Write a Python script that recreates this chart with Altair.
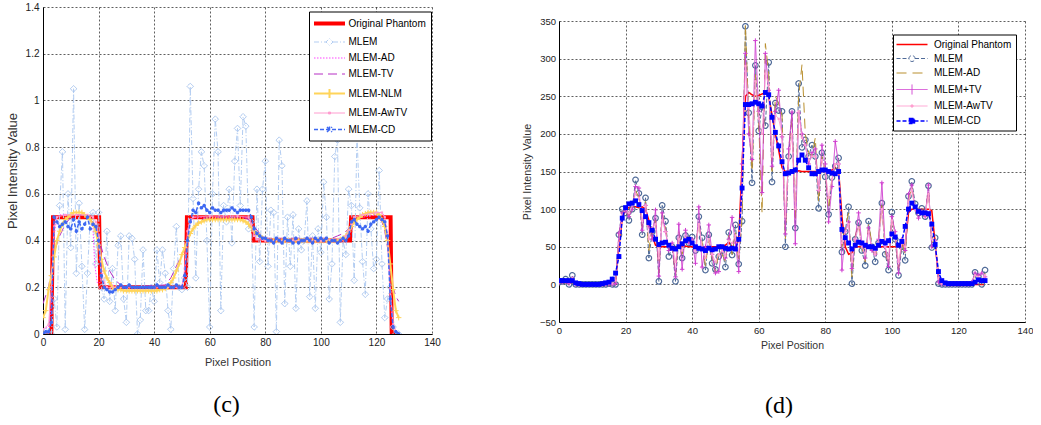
import altair as alt
import pandas as pd

FONT = "Liberation Sans"
PIX = list(range(129))

# ------------------------------------------------------------------ panel (c)
C_NAMES = ["Original Phantom", "MLEM", "MLEM-AD", "MLEM-TV", "MLEM-NLM", "MLEM-AwTV", "MLEM-CD"]

C_PHANTOM_X = [0, 3, 3.6, 20.2, 20.6, 51.4, 51.8, 75.4, 75.8, 110.5, 110.9, 125.1, 125.5, 128]
C_PHANTOM_Y = [0, 0, 0.5, 0.5, 0.2, 0.2, 0.5, 0.5, 0.4, 0.4, 0.5, 0.5, 0, 0]

C_MLEM = [
    0.0, 0.01, 0.0, 0.0, 0.15, 0.03, 0.55, 0.78, 0.02, 0.6,
    0.37, 1.05, 0.26, 0.56, 0.29, 0.02, 0.26, 0.5, 0.52, 0.3,
    0.52, 0.2, 0.15, 0.44, 0.14, 0.28, 0.1, 0.38, 0.42, 0.15,
    0.05, 0.42, 0.41, 0.32, 0.0, 0.06, 0.36, 0.1, 0.1, 0.2,
    0.14, 0.36, 0.22, 0.36, 0.26, 0.1, 0.02, 0.28, 0.46, 0.2,
    0.19, 0.24, 0.2, 1.06, 0.58, 0.24, 0.62, 0.78, 0.72, 0.4,
    0.03, 0.6, 0.92, 0.78, 0.1, 0.55, 0.48, 0.62, 0.39, 0.74,
    0.88, 0.55, 0.93, 0.89, 0.45, 0.48, 0.03, 0.62, 0.31, 0.62,
    0.74, 0.29, 0.53, 0.52, 0.01, 0.83, 0.72, 0.13, 0.5, 0.29,
    0.51, 0.11, 0.45, 0.36, 0.4, 0.57, 0.16, 0.42, 0.11, 0.45,
    0.35, 0.65, 0.5, 0.15, 0.3, 0.76, 0.83, 0.05, 0.4, 0.34,
    0.62, 0.55, 0.23, 0.85, 0.54, 0.31, 0.17, 0.6, 0.45, 0.28,
    0.32, 0.7, 0.3, 0.07, 0.15, 0.2, 0.03, 0.0, 0.0,
]

C_AD_X = [0, 2, 3, 4, 5, 6, 10, 15, 17, 18, 18.6, 19.5, 20.5, 21.5, 23, 25, 27, 30, 45, 49,
          50, 51, 52, 53, 54, 60, 70, 74, 75, 76, 77, 80, 100, 108, 109, 110, 111, 112, 115, 120,
          122, 123, 124, 125, 126, 128]
C_AD_Y = [0.02, 0.03, 0.12, 0.42, 0.5, 0.51, 0.51, 0.51, 0.5, 0.45, 0.3, 0.22, 0.22, 0.27, 0.24, 0.21, 0.2, 0.2, 0.2, 0.2,
          0.21, 0.26, 0.42, 0.48, 0.5, 0.5, 0.5, 0.5, 0.47, 0.42, 0.41, 0.4, 0.4, 0.4, 0.41, 0.42, 0.45, 0.49, 0.5, 0.51,
          0.52, 0.5, 0.42, 0.15, 0.03, 0.0]

C_TV_X = [0, 2, 4, 6, 8, 10, 12, 14, 16, 18, 19, 20, 22, 24, 26, 28, 30, 44, 46, 48,
          50, 52, 54, 56, 58, 62, 72, 74, 76, 78, 80, 104, 106, 108, 110, 112, 114, 116, 118, 120,
          122, 123, 124, 125, 126, 127, 128]
C_TV_Y = [0.13, 0.2, 0.35, 0.42, 0.47, 0.5, 0.51, 0.51, 0.5, 0.48, 0.46, 0.41, 0.33, 0.27, 0.23, 0.21, 0.2, 0.21, 0.24, 0.29,
          0.34, 0.4, 0.45, 0.48, 0.495, 0.5, 0.5, 0.49, 0.46, 0.43, 0.41, 0.41, 0.42, 0.43, 0.45, 0.48, 0.5, 0.51, 0.52, 0.51,
          0.48, 0.44, 0.37, 0.28, 0.2, 0.16, 0.14]

C_NLM = [
    0.07, 0.1, 0.19, 0.25, 0.33, 0.4, 0.44, 0.47, 0.49, 0.5,
    0.51, 0.52, 0.52, 0.52, 0.52, 0.51, 0.5, 0.49, 0.47, 0.44,
    0.38, 0.32, 0.27, 0.24, 0.22, 0.2, 0.195, 0.19, 0.19, 0.185,
    0.185, 0.185, 0.185, 0.185, 0.185, 0.185, 0.185, 0.185, 0.185, 0.185,
    0.185, 0.185, 0.19, 0.19, 0.195, 0.2, 0.22, 0.24, 0.27, 0.3,
    0.34, 0.37, 0.4, 0.43, 0.45, 0.465, 0.475, 0.48, 0.485, 0.49,
    0.49, 0.49, 0.49, 0.49, 0.49, 0.49, 0.49, 0.49, 0.49, 0.49,
    0.49, 0.49, 0.485, 0.48, 0.47, 0.455, 0.44, 0.43, 0.42, 0.41,
    0.405, 0.4, 0.4, 0.4, 0.4, 0.4, 0.4, 0.4, 0.4, 0.4,
    0.4, 0.4, 0.4, 0.4, 0.4, 0.4, 0.4, 0.4, 0.4, 0.4,
    0.4, 0.4, 0.4, 0.4, 0.4, 0.4, 0.4, 0.405, 0.41, 0.42,
    0.44, 0.46, 0.48, 0.49, 0.5, 0.51, 0.515, 0.52, 0.52, 0.52,
    0.52, 0.51, 0.49, 0.46, 0.4, 0.3, 0.19, 0.1, 0.07,
]

C_AWTV_X = [0, 2, 3, 4, 5, 8, 12, 16, 18, 19, 20, 21, 22, 23, 30, 40, 50, 51, 52, 53,
            54, 60, 70, 74, 75, 76, 77, 80, 90, 100, 108, 109, 110, 111, 112, 115, 120, 122, 123, 124,
            125, 126, 127, 128]
C_AWTV_Y = [0.02, 0.04, 0.2, 0.46, 0.5, 0.51, 0.51, 0.51, 0.5, 0.48, 0.42, 0.27, 0.22, 0.2, 0.2, 0.2, 0.2, 0.28, 0.44, 0.49,
            0.5, 0.505, 0.505, 0.5, 0.47, 0.42, 0.405, 0.4, 0.4, 0.4, 0.41, 0.42, 0.44, 0.47, 0.5, 0.51, 0.52, 0.52, 0.5, 0.42,
            0.18, 0.05, 0.01, 0.0]

C_CD = [
    0.0, 0.01, 0.01, 0.05, 0.5, 0.48, 0.46, 0.47, 0.48, 0.46,
    0.45, 0.49, 0.44, 0.48, 0.45, 0.47, 0.5, 0.45, 0.47, 0.46,
    0.4, 0.25, 0.2, 0.19, 0.18, 0.18, 0.19, 0.2, 0.21, 0.2,
    0.2, 0.21, 0.2, 0.2, 0.2, 0.2, 0.2, 0.2, 0.2, 0.2,
    0.2, 0.21, 0.2, 0.2, 0.2, 0.21, 0.2, 0.2, 0.21, 0.2,
    0.2, 0.25, 0.4, 0.48, 0.53, 0.52, 0.56, 0.54, 0.55, 0.53,
    0.52, 0.54, 0.53, 0.53, 0.52, 0.53, 0.53, 0.53, 0.54, 0.53,
    0.52, 0.53, 0.53, 0.53, 0.53, 0.5, 0.45, 0.43, 0.42, 0.41,
    0.41, 0.4, 0.4, 0.39, 0.41, 0.4, 0.39, 0.41, 0.4, 0.4,
    0.39, 0.41, 0.39, 0.4, 0.4, 0.41, 0.4, 0.39, 0.41, 0.4,
    0.41, 0.4, 0.41, 0.39, 0.4, 0.4, 0.39, 0.4, 0.41, 0.4,
    0.42, 0.48, 0.49, 0.47, 0.46, 0.45, 0.46, 0.44, 0.47, 0.48,
    0.49, 0.5, 0.49, 0.48, 0.42, 0.15, 0.03, 0.01, 0.0,
]

# ------------------------------------------------------------------ panel (d)
D_NAMES = ["Original Phantom", "MLEM", "MLEM-AD", "MLEM+TV", "MLEM-AwTV", "MLEM-CD"]

D_PHANTOM = [
    2, 2, 2, 2, 2, 1, 0, 0, 0, 0,
    0, 0, 0, 0, 0, 0, 0, 5, 50, 88,
    100, 102, 103, 103, 102, 103, 100, 85, 65, 52,
    50, 50, 50, 50, 49, 50, 50, 50, 51, 50,
    50, 50, 50, 49, 50, 50, 50, 50, 50, 50,
    52, 56, 50, 48, 60, 160, 250, 255, 252, 250,
    251, 253, 255, 250, 225, 200, 178, 155, 150, 150,
    150, 150, 151, 150, 150, 150, 150, 150, 150, 150,
    150, 150, 152, 155, 152, 90, 50, 40, 42, 50,
    50, 50, 50, 50, 50, 50, 50, 50, 50, 50,
    50, 50, 50, 51, 52, 95, 100, 100, 100, 100,
    100, 100, 98, 55, 10, 1, 0, 0, 0, 0,
    0, 0, 0, 0, 0, 0, 0, 0, 0,
]
D_MLEM = [
    3, 4, 7, 0, 12, 0, 0, 0, 0, 0,
    0, 0, 0, 0, 0, 1, 0, 0, 66, 100,
    95, 85, 100, 139, 121, 66, 115, 35, 70, 88,
    4, 105, 84, 37, 50, 4, 62, 35, 65, 55,
    63, 45, 90, 62, 19, 66, 28, 20, 37, 45,
    23, 69, 39, 79, 27, 84, 343, 228, 135, 291,
    204, 236, 211, 295, 136, 241, 231, 230, 50, 170,
    230, 75, 267, 182, 192, 170, 185, 170, 101, 175,
    143, 93, 142, 157, 168, 43, 70, 103, 1, 60,
    82, 45, 25, 84, 50, 30, 55, 108, 40, 19,
    96, 60, 12, 50, 32, 117, 137, 107, 95, 101,
    90, 131, 49, 62, 1, 0, 0, 0, 0, 0,
    0, 0, 0, 0, 0, 16, 10, 0, 19,
]
D_AD = [
    2, 3, 5, 1, 8, 0, 0, 0, 0, 0,
    0, 0, 0, 0, 0, 0, 0, 2, 60, 95,
    100, 90, 105, 125, 115, 75, 110, 45, 80, 85,
    15, 95, 75, 45, 55, 10, 70, 40, 60, 65,
    55, 50, 80, 55, 25, 60, 35, 15, 45, 40,
    30, 65, 40, 70, 30, 90, 345, 220, 150, 280,
    215, 95, 320, 280, 150, 250, 240, 225, 60, 180,
    220, 85, 250, 292, 200, 175, 170, 195, 110, 170,
    150, 100, 140, 160, 165, 50, 75, 95, 10, 65,
    80, 50, 30, 80, 55, 35, 60, 105, 45, 25,
    90, 65, 20, 55, 40, 110, 130, 100, 95, 98,
    92, 125, 55, 60, 5, 0, 0, 0, 0, 0,
    0, 0, 0, 0, 2, 12, 8, 2, 15,
]
D_TV = [
    2, 3, 4, 1, 8, 0, 0, 0, 0, 0,
    0, 0, 0, 0, 0, 0, 0, 1, 68, 95,
    98, 90, 100, 130, 128, 72, 105, 77, 60, 99,
    11, 95, 70, 45, 55, 10, 80, 20, 72, 55,
    60, 28, 103, 23, 50, 79, 40, 15, 17, 50,
    35, 60, 89, 55, 17, 160, 307, 200, 166, 324,
    230, 122, 307, 258, 157, 230, 258, 196, 67, 180,
    229, 54, 228, 200, 185, 160, 175, 180, 125, 185,
    160, 83, 130, 190, 160, 19, 70, 83, 21, 60,
    95, 55, 35, 75, 45, 40, 60, 135, 50, 24,
    90, 70, 15, 60, 45, 120, 132, 100, 88, 95,
    90, 132, 50, 58, 3, 0, 0, 0, 0, 0,
    0, 0, 0, 0, 3, 15, 12, 15, 10,
]
D_AWTV = [
    3, 4, 5, 3, 8, 1, 0, 0, 0, 0,
    0, 0, 0, 0, 0, 1, 1, 5, 55, 92,
    100, 95, 105, 120, 115, 85, 105, 60, 75, 80,
    35, 85, 70, 50, 52, 30, 60, 45, 62, 58,
    58, 45, 80, 50, 35, 60, 40, 30, 40, 45,
    38, 58, 55, 65, 40, 120, 290, 235, 170, 270,
    220, 200, 280, 265, 170, 225, 220, 200, 90, 165,
    200, 100, 230, 195, 185, 165, 170, 170, 125, 165,
    150, 115, 140, 160, 160, 55, 70, 80, 30, 60,
    75, 50, 40, 70, 50, 40, 55, 100, 50, 35,
    85, 65, 30, 55, 50, 110, 125, 100, 95, 97,
    92, 120, 60, 58, 8, 1, 0, 0, 0, 0,
    0, 0, 0, 0, 3, 12, 10, 6, 12,
]
D_CD = [
    5, 5, 5, 5, 5, 2, 1, 0, 0, 0,
    0, 0, 0, 1, 2, 3, 7, 15, 37, 88,
    102, 107, 108, 111, 106, 98, 90, 82, 72, 60,
    53, 55, 56, 52, 48, 47, 50, 54, 58, 60,
    55, 50, 48, 47, 45, 48, 46, 47, 50, 50,
    48, 47, 48, 47, 60, 128, 239, 239, 240, 242,
    240, 237, 255, 252, 222, 202, 184, 163, 147, 148,
    150, 152, 165, 172, 165, 155, 147, 147, 150, 152,
    152, 150, 148, 147, 150, 73, 62, 55, 47, 52,
    56, 55, 52, 50, 50, 48, 52, 57, 55, 58,
    67, 63, 52, 57, 77, 100, 108, 103, 97, 95,
    95, 94, 80, 53, 17, 5, 2, 1, 1, 1,
    1, 1, 1, 1, 1, 3, 6, 5, 5,
]

X_TICKS = [0, 20, 40, 60, 80, 100, 120, 140]
C_Y_TICKS = [0, 0.2, 0.4, 0.6, 0.8, 1.0, 1.2, 1.4]
D_Y_TICKS = [-50, 0, 50, 100, 150, 200, 250, 300, 350]

# ------------------------------------------------------------------ styles
PLUS = "M-1,0H1M0,-1V1"
STAR = "M-1,0H1M0,-1V1M-0.7,-0.7L0.7,0.7M-0.7,0.7L0.7,-0.7"

C_COLORS = ["#ff0000", "#b3cdf2", "#ff44ff", "#b62fc4", "#ffd45a", "#ff9ccf", "#3d68f2"]
C_DASH = [[1, 0], [5, 2, 1, 2], [1.5, 1.5], [9, 5], [1, 0], [1, 0], [4, 2]]
C_WIDTH = [4, 1, 1, 1, 2, 1, 1.5]
C_PATHS = [
    "M-3.1,0H3.1",
    "M-3.1,0H-0.7L0,-0.7L0.7,0L0,0.7L-0.7,0M0.7,0H3.1",
    "M-3.1,0H3.1",
    "M-3.1,0H3.1",
    "M-3.1,0H3.1M0,-0.9V0.9",
    "M-3.1,0H3.1M-0.2,-0.2H0.2V0.2H-0.2Z",
    "M-3.1,0H3.1M-0.5,-0.5L0.5,0.5M-0.5,0.5L0.5,-0.5M0,-0.6V0.6",
]
C_FILLS = ["transparent", "transparent", "transparent", "transparent", "transparent", "#ff9ccf", "transparent"]

D_COLORS = ["#ff0000", "#4f6a98", "#b98f2e", "#d03ed0", "#ff9fd0", "#0000ff"]
D_DASH = [[1, 0], [4, 2], [10, 6], [1, 0], [1, 0], [4, 2]]
D_WIDTH = [1.5, 1, 1, 1, 1, 1.5]
D_PATHS = [
    "M-3.1,0H3.1",
    "M-3.1,0H-0.6A0.6,0.6,0,1,1,0.6,0A0.6,0.6,0,1,1,-0.6,0M0.6,0H3.1",
    "M-3.1,0H3.1",
    "M-3.1,0H3.1M0,-1V1",
    "M-3.1,0H3.1M-0.2,-0.2H0.2V0.2H-0.2Z",
    "M-3.1,0H3.1M-0.5,-0.5H0.5V0.5H-0.5ZM-0.25,-0.25H0.25V0.25H-0.25Z",
]
D_FILLS = ["transparent", "transparent", "transparent", "transparent", "#ff9fd0", "#0000ff"]


def frame(x, y):
    return pd.DataFrame({"x": x, "y": y})


def axes(xscale, yscale, xfmt, yfmt, lab_fs, xt_fs, yt_fs, x_tpad, y_tpad, x_lpad, y_lpad, xvals, yvals):
    grid = dict(grid=True, gridColor="black", gridDash=[2, 2], gridWidth=0.7, gridOpacity=0.9,
                ticks=False, domainColor="black", domainWidth=1, labelFont=FONT,
                labelFontSize=lab_fs, labelColor="#222222", labelFlush=False, labelOverlap=False,
                titleFont=FONT, titleFontWeight="normal", titleColor="#333333")
    xe = alt.X("x:Q", scale=xscale,
               axis=alt.Axis(values=xvals, format=xfmt, title="Pixel Position", titleFontSize=xt_fs,
                             titlePadding=x_tpad, labelPadding=x_lpad, **grid))
    ye = alt.Y("y:Q", scale=yscale,
               axis=alt.Axis(values=yvals, format=yfmt, title="Pixel Intensity Value", titleFontSize=yt_fs,
                             titlePadding=y_tpad, labelPadding=y_lpad, **grid))
    return xe, ye


def legend_layer(names, colors, dashes, widths, paths, fills, lx, ly, pad, rowpad, symoff, laboff):
    leg = alt.Legend(title=None, orient="none", legendX=lx, legendY=ly, fillColor="white",
                     strokeColor="black", padding=pad, rowPadding=rowpad, symbolSize=100,
                     symbolOffset=symoff, labelOffset=laboff, labelFont=FONT, labelFontSize=10,
                     labelColor="black", labelLimit=300, symbolOpacity=1)
    src = pd.DataFrame({"series": names})
    return alt.Chart(src).transform_filter("false").mark_point(opacity=1, filled=False).encode(
        shape=alt.Shape("series:N", scale=alt.Scale(domain=names, range=paths), legend=leg),
        stroke=alt.Stroke("series:N", scale=alt.Scale(domain=names, range=colors), legend=leg),
        strokeDash=alt.StrokeDash("series:N", scale=alt.Scale(domain=names, range=dashes), legend=leg),
        strokeWidth=alt.StrokeWidth("series:N", scale=alt.Scale(type="ordinal", domain=names, range=widths),
                                    legend=leg),
        fill=alt.Fill("series:N", scale=alt.Scale(domain=names, range=fills), legend=leg),
    )


def series(x, y, color, dash, width, enc, point=None):
    kw = dict(color=color, strokeDash=dash, strokeWidth=width, clip=True)
    if point is not None:
        kw["point"] = point
    return alt.Chart(frame(x, y)).mark_line(**kw).encode(x=enc[0], y=enc[1])


# ------------------------------------------------------------------ panel (c)
cx = alt.Scale(domain=[0, 140], nice=False, zero=False)
cy = alt.Scale(domain=[0, 1.4], nice=False, zero=False)
c_enc = axes(cx, cy, "d", ".1~f", 10, 11, 13, 9, 6, 3, 4, X_TICKS, C_Y_TICKS)

c_layers = [
    series(C_PHANTOM_X, C_PHANTOM_Y, C_COLORS[0], C_DASH[0], C_WIDTH[0], c_enc),
    series(PIX, C_MLEM, C_COLORS[1], C_DASH[1], C_WIDTH[1], c_enc,
           alt.OverlayMarkDef(shape="diamond", filled=False, size=42, color="#a8c5ef", strokeWidth=1,
                              opacity=1, strokeDash=[1, 0])),
    series(C_AD_X, C_AD_Y, C_COLORS[2], C_DASH[2], C_WIDTH[2], c_enc),
    series(C_TV_X, C_TV_Y, C_COLORS[3], C_DASH[3], C_WIDTH[3], c_enc),
    series(PIX, C_NLM, C_COLORS[4], C_DASH[4], C_WIDTH[4], c_enc,
           alt.OverlayMarkDef(shape=PLUS, filled=False, size=30, color=C_COLORS[4], strokeWidth=1, opacity=1)),
    series(C_AWTV_X, C_AWTV_Y, C_COLORS[5], C_DASH[5], C_WIDTH[5], c_enc,
           alt.OverlayMarkDef(shape="square", filled=True, size=5, color=C_COLORS[5], opacity=1)),
    series(PIX, C_CD, C_COLORS[6], C_DASH[6], C_WIDTH[6], c_enc,
           alt.OverlayMarkDef(shape=STAR, filled=False, size=12, color=C_COLORS[6], strokeWidth=1.2,
                              opacity=1, strokeDash=[1, 0])),
    legend_layer(C_NAMES, C_COLORS, C_DASH, C_WIDTH, C_PATHS, C_FILLS, 266, 4.5, 5, 5, 8.5, 12),
]

panel_c = alt.layer(*c_layers).properties(
    width=389, height=327,
    title=alt.TitleParams(text="(c)", orient="bottom", anchor="middle", frame="group",
                          font="Liberation Serif", fontSize=24, fontWeight="normal", color="black",
                          offset=26, dx=-11),
)

# ------------------------------------------------------------------ panel (d)
dx = alt.Scale(domain=[0, 140], nice=False, zero=False)
dy = alt.Scale(domain=[-50, 350], nice=False, zero=False)
d_enc = axes(dx, dy, "d", "d", 9.5, 10.5, 10.8, 6, 7, 3, 3.5, X_TICKS, D_Y_TICKS)

panel_d = alt.layer(
    series(PIX, D_PHANTOM, D_COLORS[0], D_DASH[0], D_WIDTH[0], d_enc),
    series(PIX, D_MLEM, D_COLORS[1], D_DASH[1], D_WIDTH[1], d_enc,
           alt.OverlayMarkDef(shape="circle", filled=False, size=30, color=D_COLORS[1], strokeWidth=1.2,
                              opacity=1, strokeDash=[1, 0])),
    series(PIX, D_AD, D_COLORS[2], D_DASH[2], D_WIDTH[2], d_enc),
    series(PIX, D_TV, D_COLORS[3], D_DASH[3], D_WIDTH[3], d_enc,
           alt.OverlayMarkDef(shape=PLUS, filled=False, size=20, color=D_COLORS[3], strokeWidth=1, opacity=1)),
    series(PIX, D_AWTV, D_COLORS[4], D_DASH[4], D_WIDTH[4], d_enc,
           alt.OverlayMarkDef(shape="square", filled=True, size=5, color=D_COLORS[4], opacity=1)),
    series(PIX, D_CD, D_COLORS[5], D_DASH[5], D_WIDTH[5], d_enc,
           alt.OverlayMarkDef(shape="square", filled=True, size=24, color=D_COLORS[5], opacity=1)),
    legend_layer(D_NAMES, D_COLORS, D_DASH, D_WIDTH, D_PATHS, D_FILLS, 334, 27.5, 4, 3.5, 9, 16),
).properties(
    width=466, height=301,
    title=alt.TitleParams(text="(d)", orient="bottom", anchor="middle", frame="group",
                          font="Liberation Serif", fontSize=24, fontWeight="normal", color="black",
                          offset=43, dx=-13),
)

# empty white block that pushes panel (d) a little lower than panel (c), as in the figure
top_gap = alt.Chart(pd.DataFrame({"x": [0]})).transform_filter("false").mark_point().encode(
    x=alt.value(0), y=alt.value(0)
).properties(width=466, height=9, view=alt.ViewBackground(fill="white", stroke="white"))

right_col = alt.vconcat(top_gap, panel_d, spacing=0)

chans = dict(shape="independent", stroke="independent", strokeDash="independent",
             strokeWidth="independent", fill="independent")
chart = alt.hconcat(panel_c, right_col, spacing=80).resolve_scale(
    x="independent", y="independent", **chans
).resolve_legend(**chans).properties(
    padding={"left": 6, "top": 2, "right": 0, "bottom": 0},
    background="white",
).configure_view(stroke=None, strokeWidth=0)

chart.save("out.html", embed_options={"renderer": "svg", "actions": False})
